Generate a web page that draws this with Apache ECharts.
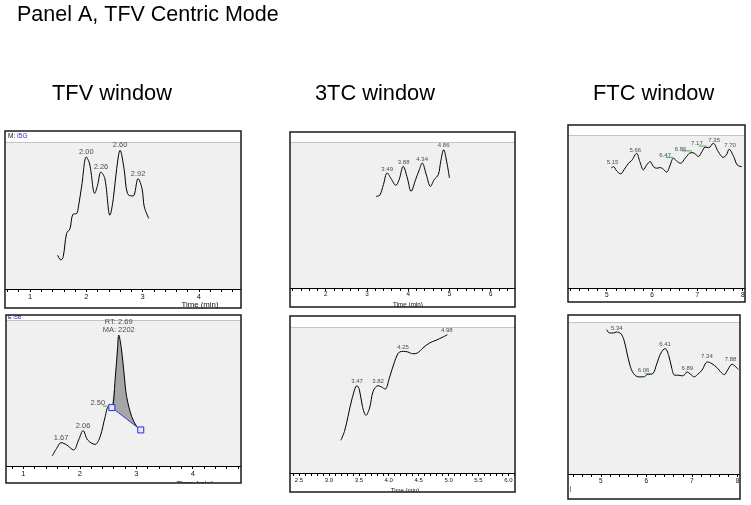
<!DOCTYPE html>
<html><head><meta charset="utf-8">
<script src="https://cdn.jsdelivr.net/npm/echarts@6/dist/echarts.min.js"></script>
<style>html,body{margin:0;padding:0;background:#fff}#c{width:751px;height:505px}</style>
</head><body><div id="c"></div>
<script>
// ---------------- DATA ----------------
// TFV window, top trace
const tfvTopTime   = [1.49,1.55,1.59,1.65,1.71,1.76,1.83,1.86,1.92,2.00,2.06,2.15,2.20,2.26,2.33,2.42,2.48,2.54,2.60,2.67,2.73,2.81,2.85,2.92,2.99,3.03,3.11];
const tfvTopSignal = [23,19.7,22,37.8,41,50.7,51.4,55.9,70.6,89.8,85,65,70.6,79.6,75,50.2,61.5,82,94.3,82,65,63.3,63.8,75.1,68.3,55.9,48];
const tfvTopPeakText   = ['2.00','2.26','2.60','2.92'];
const tfvTopPeakTime   = [2.00,2.26,2.60,2.92];
const tfvTopPeakSignal = [89.8,79.6,94.3,75.1];
const tfvTopTickLabels = [1,2,3,4];

// TFV window, bottom trace
const tfvBotTime   = [1.51,1.59,1.67,1.77,1.89,1.98,2.06,2.14,2.27,2.36,2.45,2.51,2.57,2.63,2.67,2.69,2.74,2.79,2.83,2.92,3.01,3.08];
const tfvBotSignal = [6.8,12,16,14.4,11,17.8,24.2,17.8,14.8,20,33.8,40.6,40.6,61,81,89.7,79.5,61,47.5,33.8,27,24.7];
const tfvBotPeakText   = ['1.67','2.06'];
const tfvBotPeakTime   = [1.67,2.06];
const tfvBotPeakSignal = [16,24.2];
const tfvBotMainPeak   = {time:2.69, signal:89.7, text:'RT: 2.69\nMA: 2202'};
const tfvBotStartText  = {time:2.32, signal:43.4, text:'2.50'};
const tfvBotBaseline   = [[2.568,40.0],[3.08,24.7]];
const tfvBotGreen      = [[2.41,2.54,41]];
const tfvBotTickLabels = [1,2,3,4];

// 3TC window, top trace
const tcTopTime   = [3.22,3.31,3.40,3.49,3.60,3.70,3.78,3.88,3.98,4.07,4.18,4.27,4.34,4.44,4.54,4.63,4.73,4.79,4.86,4.94,5.00];
const tcTopSignal = [62.8,63.5,70.8,78.8,74.2,70.3,74.2,83.3,75.3,66.2,74.2,81,85.6,77.6,69.6,74.2,77.6,86.8,94.7,85.6,75.3];
const tcTopPeakText   = ['3.49','3.88','4.34','4.86'];
const tcTopPeakTime   = [3.49,3.89,4.34,4.86];
const tcTopPeakSignal = [78.8,83.3,85.6,94.7];
const tcTopTickLabels = [2,3,4,5,6];

// 3TC window, bottom trace
const tcBotTime   = [3.20,3.26,3.32,3.39,3.47,3.51,3.56,3.62,3.68,3.74,3.82,3.88,3.94,4.01,4.10,4.18,4.25,4.32,4.40,4.48,4.57,4.68,4.79,4.91,4.98];
const tcBotSignal = [22.4,28.5,38.8,51.4,59.8,57,45.7,39.5,44.5,56,59.8,58.9,57.5,65,76.5,82.9,83.3,82.9,81.7,82.2,85.6,89,90.9,93.2,94.7];
const tcBotPeakText   = ['3.47','3.82','4.25','4.98'];
const tcBotPeakTime   = [3.47,3.82,4.24,4.97];
const tcBotPeakSignal = [59.8,59.8,83.3,94.7];
const tcBotTickLabels = [2.5,3.0,3.5,4.0,4.5,5.0,5.5,6.0];

// FTC window, top trace
const ftcTopTime   = [5.10,5.15,5.22,5.31,5.38,5.48,5.55,5.66,5.73,5.81,5.88,5.96,6.03,6.10,6.18,6.25,6.32,6.40,6.47,6.56,6.63,6.73,6.86,6.94,7.02,7.10,7.17,7.25,7.35,7.46,7.57,7.64,7.70,7.80,7.88,7.98];
const ftcTopSignal = [78.5,79.3,76.5,74.6,77.2,81.5,83.3,88,82.6,77.2,80.4,82.6,79.3,78.3,78.7,77.6,75.7,80.4,84.8,82.6,81.5,84.8,88.5,88,85.9,89.1,92,91.7,94.6,89.1,85.4,87,90.7,85.9,80.4,79.3];
const ftcTopPeakText   = ['5.15','5.66','6.47','6.86','7.17','7.35','7.70'];
const ftcTopPeakTime   = [5.13,5.63,6.29,6.63,6.99,7.37,7.72];
const ftcTopPeakSignal = [79.3,87.4,84.3,88,91.7,94.1,90.9];
const ftcTopGreen      = [[6.30,6.46,85.4],[6.66,6.88,89.6],[7.03,7.21,92.8]];
const ftcTopTickLabels = [5,6,7,8];

// FTC window, bottom trace
const ftcBotTime   = [5.13,5.19,5.28,5.34,5.44,5.51,5.57,5.64,5.72,5.83,5.94,6.02,6.14,6.23,6.32,6.41,6.49,6.56,6.62,6.70,6.78,6.85,6.89,6.98,7.05,7.12,7.22,7.34,7.44,7.55,7.63,7.71,7.79,7.88,7.95,8.02];
const ftcBotSignal = [95,92.8,92.8,93.4,92.3,88,80.3,71.6,66,63.9,63.9,65.4,66,72.6,79.6,82.5,78.1,69.4,65,65,64.6,65.6,67.2,65.4,63.9,65.4,68.3,73.7,72.6,70,67.2,65.4,68.7,72.2,70.9,68.7];
const ftcBotPeakText   = ['5.34','6.06','6.41','6.89','7.34','7.88'];
const ftcBotPeakTime   = [5.35,5.94,6.41,6.90,7.33,7.85];
const ftcBotPeakSignal = [93.4,65.4,82.5,66.7,74.8,72.6];
const ftcBotGreen      = [[5.97,6.12,66]];
const ftcBotTickLabels = [5,6,7,8];

// ---------------- LAYOUT ----------------
const FONT = 'Liberation Sans, Arial, sans-serif';
const BG = '#f0f0f0';
const panels = [
  {box:[5,131,236,177], header:142, axis:289, xmin:0.556, xmax:4.748, step:0.2, labels:tfvTopTickLabels, lf:7.5, dec:0, margin:4,
   time:tfvTopTime, sig:tfvTopSignal, pt:tfvTopPeakTime, ps:tfvTopPeakSignal, px:tfvTopPeakText, pf:7.5, green:[],
   head:{x:8,y:136.5,a:'M: ',b:'I5G',fs:6.5}, tl:{x:200,y:304.5,fs:7.8}},
  {box:[6,315,235,168], header:320, axis:466, xmin:0.694, xmax:4.855, step:0.2, labels:tfvBotTickLabels, lf:7.5, dec:0, margin:4,
   time:tfvBotTime, sig:tfvBotSignal, pt:tfvBotPeakTime, ps:tfvBotPeakSignal, px:tfvBotPeakText, pf:7.5, green:tfvBotGreen,
   head:{x:8,y:317.5,a:'E ',b:'I5B',fs:5.5}, tl:{x:195,y:484,fs:7.8,cut:true}},
  {box:[290,132,225,175], header:142, axis:288, xmin:1.135, xmax:6.59, step:0.2, labels:tcTopTickLabels, lf:6.3, dec:0, margin:3.5,
   time:tcTopTime, sig:tcTopSignal, pt:tcTopPeakTime, ps:tcTopPeakSignal, px:tcTopPeakText, pf:6, green:[],
   tl:{x:408,y:305,fs:6.3,cut:true}},
  {box:[290,316,225,176], header:327, axis:473, xmin:2.35, xmax:6.11, step:0.1, labels:tcBotTickLabels, lf:6, dec:1, margin:4,
   time:tcBotTime, sig:tcBotSignal, pt:tcBotPeakTime, ps:tcBotPeakSignal, px:tcBotPeakText, pf:6, green:[],
   tl:{x:405,y:490,fs:6,cut:true}},
  {box:[568,125,177,177], header:135, axis:288, xmin:4.146, xmax:8.05, step:0.2, labels:ftcTopTickLabels, lf:6.5, dec:0, margin:4,
   time:ftcTopTime, sig:ftcTopSignal, pt:ftcTopPeakTime, ps:ftcTopPeakSignal, px:ftcTopPeakText, pf:6, green:ftcTopGreen},
  {box:[568,315,172,184], header:322, axis:474, xmin:4.28, xmax:8.056, step:0.2, labels:ftcBotTickLabels, lf:6.5, dec:0, margin:4,
   time:ftcBotTime, sig:ftcBotSignal, pt:ftcBotPeakTime, ps:ftcBotPeakSignal, px:ftcBotPeakText, pf:6, green:ftcBotGreen}
];

function tickValues(min, max, step){
  const out = [];
  let v = Math.ceil(min/step - 1e-9)*step;
  for(; v <= max + 1e-9; v += step) out.push(+v.toFixed(3));
  return out;
}
function zip(a,b){ return a.map((v,i)=>[v,b[i]]); }

const grid=[], xAxis=[], yAxis=[], series=[], graphic=[];
graphic.push({type:'text', left:17, top:4, style:{text:'Panel A, TFV Centric Mode', font:'21.5px '+FONT, fill:'#000'}});
graphic.push({type:'text', left:52, top:83, style:{text:'TFV window', font:'21.8px '+FONT, fill:'#000'}});
graphic.push({type:'text', left:315, top:83, style:{text:'3TC window', font:'21.8px '+FONT, fill:'#000'}});
graphic.push({type:'text', left:593, top:83, style:{text:'FTC window', font:'21.8px '+FONT, fill:'#000'}});

panels.forEach((p,i)=>{
  const [bx,by,bw,bh] = p.box;
  grid.push({left:bx, top:p.header, width:bw, height:p.axis-p.header, show:true, backgroundColor:BG, borderWidth:0});
  xAxis.push({type:'value', gridIndex:i, min:p.xmin, max:p.xmax, z:10,
    axisLine:{show:true, lineStyle:{color:'#000', width:1}},
    axisTick:{show:true, length:3, inside:false, customValues:tickValues(p.xmin,p.xmax,p.step), lineStyle:{color:'#000', width:1}},
    minorTick:{show:false}, splitLine:{show:false},
    axisLabel:{show:true, customValues:p.labels, margin:p.margin, fontSize:p.lf, fontFamily:FONT, color:'#111',
      formatter:(v)=>Number(v).toFixed(p.dec)}});
  yAxis.push({type:'value', gridIndex:i, min:0, max:100, show:false});

  series.push({type:'line', xAxisIndex:i, yAxisIndex:i, data:zip(p.time,p.sig), smooth:0.35, showSymbol:false, symbol:'none',
    lineStyle:{color:'#000', width:1}, z:5, silent:true, animation:false});
  series.push({type:'scatter', xAxisIndex:i, yAxisIndex:i, symbolSize:0, z:7, silent:true, animation:false,
    data:p.pt.map((t,k)=>({value:[t,p.ps[k]], label:{formatter:p.px[k]}})),
    label:{show:true, position:'top', distance:1, fontSize:p.pf, fontFamily:FONT, color:'#222'}});
  if(p.green.length){
    series.push({type:'custom', xAxisIndex:i, yAxisIndex:i, data:p.green, z:6, silent:true, animation:false,
      renderItem:(params, api)=>{
        const a = api.coord([api.value(0), api.value(2)]);
        const b = api.coord([api.value(1), api.value(2)]);
        return {type:'line', shape:{x1:a[0],y1:a[1],x2:b[0],y2:b[1]}, style:{stroke:'#4caf50', lineWidth:1}};
      }});
  }
  // frame
  graphic.push({type:'line', shape:{x1:bx, y1:p.header+0.5, x2:bx+bw, y2:p.header+0.5}, style:{stroke:'#c4c4c4', lineWidth:1}, z:1});
  if(p.tl){
    graphic.push({type:'text', x:p.tl.x, y:p.tl.y, style:{text:'Time (min)', font:p.tl.fs+'px '+FONT, fill:'#111', align:'center', verticalAlign:'middle'}, z:20});
    if(p.tl.cut) graphic.push({type:'rect', shape:{x:bx-2, y:by+bh, width:bw+4, height:10}, style:{fill:'#fff'}, z:21});
  }
  if(p.head){
    graphic.push({type:'text', x:p.head.x, y:p.head.y, style:{rich:{a:{fill:'#111', font:p.head.fs+'px '+FONT}, b:{fill:'#2a2acc', font:p.head.fs+'px '+FONT}}, text:'{a|'+p.head.a+'}{b|'+p.head.b+'}', verticalAlign:'middle'}, z:20});
  }
  graphic.push({type:'rect', shape:{x:bx, y:by, width:bw, height:bh}, style:{fill:'none', stroke:'#1a1a1a', lineWidth:1.5}, z:22});
});

// TFV bottom: integrated peak fill (between trace and baseline), baseline, annotations
const fillSeg = zip(tfvBotTime, tfvBotSignal).filter(d=>d[0] > tfvBotBaseline[0][0]+1e-6 && d[0] < tfvBotBaseline[1][0]-1e-6);
const fillPoly = [tfvBotBaseline[0]].concat(fillSeg, [tfvBotBaseline[1]]);
series.push({type:'custom', xAxisIndex:1, yAxisIndex:1, data:[[tfvBotBaseline[0][0], tfvBotBaseline[0][1]]], z:2, silent:true, animation:false,
  renderItem:(params, api)=>({type:'polygon', shape:{points:fillPoly.map(d=>api.coord(d)), smooth:0.25},
    style:{fill:'#a6a6a6', stroke:null}})});
series.push({type:'line', xAxisIndex:1, yAxisIndex:1, data:tfvBotBaseline, symbol:'rect', symbolSize:6, showSymbol:true,
  itemStyle:{color:'#e6e6ff', borderColor:'#2a2add', borderWidth:1}, lineStyle:{color:'#3a3ae0', width:1}, z:8, silent:true, animation:false});
series.push({type:'scatter', xAxisIndex:1, yAxisIndex:1, symbolSize:0, z:8, silent:true, animation:false,
  data:[{value:[tfvBotMainPeak.time, tfvBotMainPeak.signal], label:{formatter:tfvBotMainPeak.text, position:'top', distance:1, lineHeight:8}},
        {value:[tfvBotStartText.time, tfvBotStartText.signal], label:{formatter:tfvBotStartText.text, position:'inside'}}],
  label:{show:true, fontSize:7.5, fontFamily:FONT, color:'#222'}});

// small mark at bottom-left of FTC bottom panel
graphic.push({type:'line', shape:{x1:570.5, y1:486, x2:570.5, y2:492}, style:{stroke:'#888', lineWidth:1}, z:20});

const chart = echarts.init(document.getElementById('c'), null, {renderer:'canvas'});
chart.setOption({animation:false, backgroundColor:'#fff', grid, xAxis, yAxis, series, graphic});
</script></body></html>
